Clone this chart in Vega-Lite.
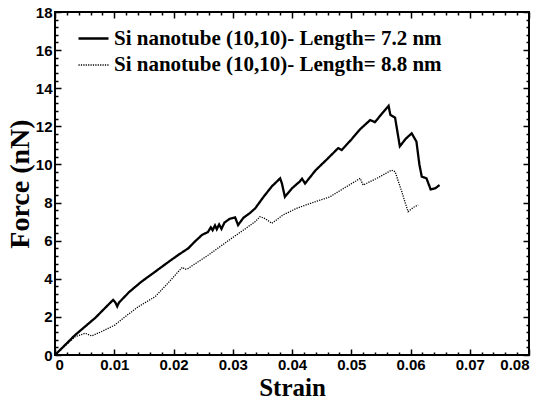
{
  "$schema": "https://vega.github.io/schema/vega-lite/v6.json",
  "width": 474,
  "height": 343,
  "autosize": {"type": "none"},
  "padding": {"left": 55, "top": 12, "right": 16, "bottom": 45},
  "background": "white",
  "config": {"view": {"stroke": "black", "strokeWidth": 2}},
  "data": {"values": [
    {"s":"A","x":0,"y":0},{"s":"A","x":0.0034,"y":1.05},{"s":"A","x":0.0068,"y":1.95},{"s":"A","x":0.0098,"y":2.89},{"s":"A","x":0.0102,"y":2.75},{"s":"A","x":0.0105,"y":2.55},{"s":"A","x":0.0108,"y":2.75},{"s":"A","x":0.0125,"y":3.3},{"s":"A","x":0.0146,"y":3.85},{"s":"A","x":0.0169,"y":4.37},{"s":"A","x":0.019,"y":4.85},{"s":"A","x":0.0208,"y":5.25},{"s":"A","x":0.0225,"y":5.6},{"s":"A","x":0.0236,"y":5.95},{"s":"A","x":0.0248,"y":6.3},{"s":"A","x":0.0258,"y":6.45},{"s":"A","x":0.0263,"y":6.7},{"s":"A","x":0.0266,"y":6.55},{"s":"A","x":0.027,"y":6.8},{"s":"A","x":0.0273,"y":6.6},{"s":"A","x":0.0277,"y":6.85},{"s":"A","x":0.0281,"y":6.62},{"s":"A","x":0.0286,"y":6.95},{"s":"A","x":0.0295,"y":7.15},{"s":"A","x":0.0304,"y":7.22},{"s":"A","x":0.0309,"y":6.82},{"s":"A","x":0.0318,"y":7.2},{"s":"A","x":0.0329,"y":7.45},{"s":"A","x":0.0338,"y":7.7},{"s":"A","x":0.0352,"y":8.3},{"s":"A","x":0.0366,"y":8.85},{"s":"A","x":0.038,"y":9.27},{"s":"A","x":0.0383,"y":9.0},{"s":"A","x":0.0388,"y":8.3},{"s":"A","x":0.04,"y":8.75},{"s":"A","x":0.0413,"y":9.1},{"s":"A","x":0.0417,"y":9.25},{"s":"A","x":0.0422,"y":9.0},{"s":"A","x":0.044,"y":9.7},{"s":"A","x":0.046,"y":10.3},{"s":"A","x":0.0478,"y":10.86},{"s":"A","x":0.0484,"y":10.76},{"s":"A","x":0.05,"y":11.3},{"s":"A","x":0.0515,"y":11.85},{"s":"A","x":0.0532,"y":12.33},{"s":"A","x":0.054,"y":12.22},{"s":"A","x":0.055,"y":12.6},{"s":"A","x":0.0563,"y":13.08},{"s":"A","x":0.0566,"y":12.6},{"s":"A","x":0.0574,"y":12.45},{"s":"A","x":0.0582,"y":10.95},{"s":"A","x":0.0592,"y":11.35},{"s":"A","x":0.0602,"y":11.63},{"s":"A","x":0.061,"y":11.2},{"s":"A","x":0.0615,"y":10.0},{"s":"A","x":0.0619,"y":9.36},{"s":"A","x":0.0627,"y":9.27},{"s":"A","x":0.0634,"y":8.69},{"s":"A","x":0.0642,"y":8.75},{"s":"A","x":0.0649,"y":8.92},
    {"s":"B","x":0,"y":0},{"s":"B","x":0.0034,"y":0.96},{"s":"B","x":0.0051,"y":1.14},{"s":"B","x":0.0062,"y":1.0},{"s":"B","x":0.008,"y":1.25},{"s":"B","x":0.0101,"y":1.57},{"s":"B","x":0.012,"y":2.05},{"s":"B","x":0.0141,"y":2.54},{"s":"B","x":0.0169,"y":3.06},{"s":"B","x":0.019,"y":3.75},{"s":"B","x":0.0208,"y":4.37},{"s":"B","x":0.0215,"y":4.6},{"s":"B","x":0.022,"y":4.5},{"s":"B","x":0.0225,"y":4.55},{"s":"B","x":0.0259,"y":5.25},{"s":"B","x":0.0298,"y":6.12},{"s":"B","x":0.032,"y":6.6},{"s":"B","x":0.0338,"y":7.0},{"s":"B","x":0.0346,"y":7.26},{"s":"B","x":0.0355,"y":7.15},{"s":"B","x":0.0366,"y":6.91},{"s":"B","x":0.0385,"y":7.35},{"s":"B","x":0.0408,"y":7.7},{"s":"B","x":0.0435,"y":8.0},{"s":"B","x":0.0464,"y":8.3},{"s":"B","x":0.049,"y":8.8},{"s":"B","x":0.0509,"y":9.15},{"s":"B","x":0.0515,"y":9.27},{"s":"B","x":0.052,"y":8.92},{"s":"B","x":0.0545,"y":9.3},{"s":"B","x":0.0568,"y":9.7},{"s":"B","x":0.0574,"y":9.62},{"s":"B","x":0.0585,"y":8.6},{"s":"B","x":0.0594,"y":7.7},{"s":"B","x":0.0596,"y":7.52},{"s":"B","x":0.0605,"y":7.75},{"s":"B","x":0.0613,"y":7.87}
  ]},
  "layer": [
    {
      "mark": {"type": "line", "color": "black"},
      "encoding": {
        "x": {"field": "x", "type": "quantitative", "scale": {"domain": [0, 0.08], "nice": false, "zero": false},
          "axis": {
            "values": [0,0.002,0.004,0.006,0.008,0.01,0.012,0.014,0.016,0.018,0.02,0.022,0.024,0.026,0.028,0.03,0.032,0.034,0.036,0.038,0.04,0.042,0.044,0.046,0.048,0.05,0.052,0.054,0.056,0.058,0.06,0.062,0.064,0.066,0.068,0.07,0.072,0.074,0.076,0.078,0.08],
            "labelExpr": "abs(datum.value*100 - round(datum.value*100)) < 0.001 ? (datum.value == 0 ? '0' : format(datum.value, '.2f')) : ''",
            "labelOverlap": false,
            "labelFont": "Liberation Sans", "labelFontWeight": "bold", "labelFontSize": 15, "labelColor": "black",
            "labelPadding": 8,
            "domain": false, "grid": false,
            "tickColor": "black", "tickWidth": 1.5,
            "tickSize": {"condition": {"test": "abs(datum.value*100 - round(datum.value*100)) < 0.001", "value": -6}, "value": -3},
            "title": "Strain", "titleFont": "Liberation Serif", "titleFontWeight": "bold", "titleFontSize": 25, "titleColor": "black", "titlePadding": 0
          }},
        "y": {"field": "y", "type": "quantitative", "scale": {"domain": [0, 18], "nice": false},
          "axis": {
            "values": [0,0.4,0.8,1.2,1.6,2,2.4,2.8,3.2,3.6,4,4.4,4.8,5.2,5.6,6,6.4,6.8,7.2,7.6,8,8.4,8.8,9.2,9.6,10,10.4,10.8,11.2,11.6,12,12.4,12.8,13.2,13.6,14,14.4,14.8,15.2,15.6,16,16.4,16.8,17.2,17.6,18],
            "labelExpr": "datum.value % 2 == 0 ? format(datum.value, 'd') : ''",
            "labelOverlap": false,
            "labelFont": "Liberation Sans", "labelFontWeight": "bold", "labelFontSize": 15, "labelColor": "black",
            "labelPadding": 9,
            "domain": false, "grid": false,
            "tickColor": "black", "tickWidth": 1.5,
            "tickSize": {"condition": {"test": "datum.value % 2 == 0", "value": -6}, "value": -3},
            "title": "Force (nN)", "titleFont": "Liberation Serif", "titleFontWeight": "bold", "titleFontSize": 28, "titleColor": "black", "titlePadding": 1
          }},
        "strokeDash": {"field": "s", "type": "nominal",
          "scale": {"domain": ["A", "B"], "range": [[1, 0], [1.2, 1.2]]},
          "legend": {
            "orient": "none", "legendX": 22, "legendY": 10, "padding": 0,
            "title": null, "symbolType": "stroke", "symbolSize": 900, "symbolStrokeColor": "black", "symbolStrokeWidth": 1.6,
            "labelExpr": "datum.label == 'A' ? 'Si nanotube (10,10)- Length= 7.2 nm' : 'Si nanotube (10,10)- Length= 8.8 nm'",
            "labelFont": "Liberation Serif", "labelFontWeight": "bold", "labelFontSize": 21, "labelColor": "black",
            "labelOffset": 4, "rowPadding": -3, "labelLimit": 500
          }},
        "strokeWidth": {"field": "s", "type": "ordinal", "scale": {"domain": ["A", "B"], "range": [2.3, 1.3]}, "legend": null}
      }
    },
    {
      "mark": {"type": "line", "opacity": 0},
      "encoding": {
        "x": {"field": "x", "type": "quantitative",
          "axis": {
            "orient": "top",
            "values": [0,0.002,0.004,0.006,0.008,0.01,0.012,0.014,0.016,0.018,0.02,0.022,0.024,0.026,0.028,0.03,0.032,0.034,0.036,0.038,0.04,0.042,0.044,0.046,0.048,0.05,0.052,0.054,0.056,0.058,0.06,0.062,0.064,0.066,0.068,0.07,0.072,0.074,0.076,0.078,0.08],
            "labels": false, "domain": false, "grid": false, "title": null,
            "tickColor": "black", "tickWidth": 1.5,
            "tickSize": {"condition": {"test": "abs(datum.value*100 - round(datum.value*100)) < 0.001", "value": -6}, "value": -3}
          }},
        "y": {"field": "y", "type": "quantitative",
          "axis": {
            "orient": "right",
            "values": [0,0.4,0.8,1.2,1.6,2,2.4,2.8,3.2,3.6,4,4.4,4.8,5.2,5.6,6,6.4,6.8,7.2,7.6,8,8.4,8.8,9.2,9.6,10,10.4,10.8,11.2,11.6,12,12.4,12.8,13.2,13.6,14,14.4,14.8,15.2,15.6,16,16.4,16.8,17.2,17.6,18],
            "labels": false, "domain": false, "grid": false, "title": null,
            "tickColor": "black", "tickWidth": 1.5,
            "tickSize": {"condition": {"test": "datum.value % 2 == 0", "value": -6}, "value": -3}
          }},
        "detail": {"field": "s", "type": "nominal"}
      }
    }
  ],
  "resolve": {"axis": {"x": "independent", "y": "independent"}}
}
